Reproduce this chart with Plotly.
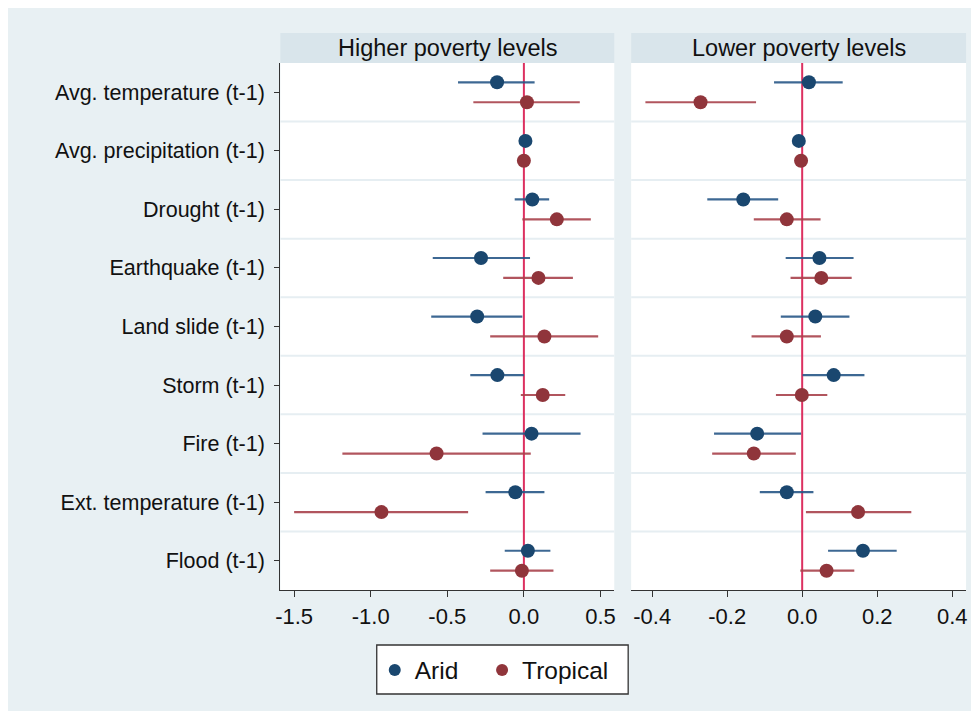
import plotly.graph_objects as go

# The page body keeps an 8px margin, so the figure is sized to fit the window.
OFF = 8
W, H = 979 - OFF, 711 - OFF

categories = ["Avg. temperature (t-1)", "Avg. precipitation (t-1)", "Drought (t-1)",
              "Earthquake (t-1)", "Land slide (t-1)", "Storm (t-1)", "Fire (t-1)",
              "Ext. temperature (t-1)", "Flood (t-1)"]
panel_titles = ["Higher poverty levels", "Lower poverty levels"]
series_names = ["Arid", "Tropical"]

# Higher poverty levels
high_arid_est = [-0.175, 0.010, 0.055, -0.280, -0.305, -0.173, 0.050, -0.056, 0.026]
high_arid_lo = [-0.430, 0.004, -0.060, -0.595, -0.605, -0.350, -0.270, -0.250, -0.125]
high_arid_hi = [0.070, 0.016, 0.165, 0.040, -0.010, 0.000, 0.370, 0.134, 0.173]
high_trop_est = [0.020, 0.000, 0.215, 0.095, 0.134, 0.123, -0.570, -0.930, -0.013]
high_trop_lo = [-0.330, -0.006, -0.010, -0.135, -0.220, -0.020, -1.185, -1.500, -0.220]
high_trop_hi = [0.365, 0.006, 0.437, 0.320, 0.485, 0.270, 0.045, -0.364, 0.193]

# Lower poverty levels
low_arid_est = [0.018, -0.009, -0.157, 0.046, 0.035, 0.084, -0.120, -0.041, 0.162]
low_arid_lo = [-0.075, -0.012, -0.253, -0.044, -0.057, 0.001, -0.235, -0.113, 0.069]
low_arid_hi = [0.108, -0.006, -0.064, 0.137, 0.126, 0.166, -0.003, 0.030, 0.252]
low_trop_est = [-0.271, -0.003, -0.041, 0.051, -0.041, -0.001, -0.129, 0.149, 0.065]
low_trop_lo = [-0.418, -0.006, -0.129, -0.031, -0.135, -0.070, -0.240, 0.010, -0.005]
low_trop_hi = [-0.123, 0.000, 0.049, 0.132, 0.050, 0.067, -0.017, 0.291, 0.139]

left_ticks = [-1.5, -1.0, -0.5, 0.0, 0.5]
left_ticktext = ["-1.5", "-1.0", "-0.5", "0.0", "0.5"]
right_ticks = [-0.4, -0.2, 0.0, 0.2, 0.4]
right_ticktext = ["-0.4", "-0.2", "0.0", "0.2", "0.4"]

ARID = "#1a476f"
TROP = "#90353b"
ARID_CI = "rgba(40,88,135,0.9)"
TROP_CI = "rgba(168,66,76,0.9)"
BG = "#e8f0f3"
STRIP = "#d9e5eb"
FONT = "Liberation Sans, Arial, sans-serif"

pos = list(range(1, len(categories) + 1))
off = 0.17

fig = go.Figure()

panels = [
    ("x", "y", high_arid_est, high_arid_lo, high_arid_hi, high_trop_est, high_trop_lo, high_trop_hi),
    ("x2", "y2", low_arid_est, low_arid_lo, low_arid_hi, low_trop_est, low_trop_lo, low_trop_hi),
]
for pi, (xa, ya, ae, al, ah, te, tl, th) in enumerate(panels):
    for name, est, lo, hi, col, cicol, sgn, lg in [
        (series_names[0], ae, al, ah, ARID, ARID_CI, -1, "legend"),
        (series_names[1], te, tl, th, TROP, TROP_CI, 1, "legend2"),
    ]:
        fig.add_trace(go.Scatter(
            x=est, y=[p + sgn * off for p in pos], xaxis=xa, yaxis=ya,
            mode="markers", name=name, showlegend=(pi == 0), legend=lg,
            marker=dict(color=col, size=14),
            error_x=dict(type="data", symmetric=False,
                         array=[h - e for h, e in zip(hi, est)],
                         arrayminus=[e - l for e, l in zip(est, lo)],
                         color=cicol, thickness=2.2, width=0),
        ))

# page-pixel -> paper fraction
px = lambda v: (v - OFF) / W
py = lambda v: 1 - (v - OFF) / H

top, bottom = 63, 590
dom_y = [py(bottom), py(top)]
dom_x1 = [px(277), px(613)]
dom_x2 = [px(630), px(967)]

axcol = "#333333"
legend_common = dict(orientation="h", xanchor="left", yanchor="middle", y=py(670),
                     bgcolor="rgba(0,0,0,0)", borderwidth=0,
                     font=dict(size=24.5, color="#111111", family=FONT), itemsizing="constant")
fig.update_layout(
    width=W, height=H,
    margin=dict(l=0, r=0, t=0, b=0),
    paper_bgcolor=BG, plot_bgcolor="white",
    font=dict(family=FONT, color="#111111"),
    xaxis=dict(domain=dom_x1, range=[-1.59, 0.59], tickvals=left_ticks, ticktext=left_ticktext,
               anchor="y", showline=True, linecolor=axcol, linewidth=1.3, ticks="outside",
               ticklen=6, tickwidth=1.3, tickcolor=axcol, showgrid=False, zeroline=False,
               tickfont=dict(size=22, color="#111111", family=FONT)),
    xaxis2=dict(domain=dom_x2, range=[-0.456, 0.437], tickvals=right_ticks, ticktext=right_ticktext,
                anchor="y2", showline=True, linecolor=axcol, linewidth=1.3, ticks="outside",
                ticklen=6, tickwidth=1.3, tickcolor=axcol, showgrid=False, zeroline=False,
                tickfont=dict(size=22, color="#111111", family=FONT)),
    yaxis=dict(domain=dom_y, range=[9.5, 0.5], tickvals=pos, ticktext=categories,
               anchor="x", showline=True, linecolor=axcol, linewidth=1.3, ticks="outside",
               ticklen=5, tickwidth=1.3, tickcolor=axcol, showgrid=False, zeroline=False,
               ticklabelstandoff=5,
               tickfont=dict(size=21.5, color="#111111", family=FONT)),
    yaxis2=dict(domain=dom_y, range=[9.5, 0.5], anchor="x2", showline=False, ticks="",
                showticklabels=False, showgrid=False, zeroline=False),
    legend=dict(x=px(372), **legend_common),
    legend2=dict(x=px(480), **legend_common),
    showlegend=True,
)

shapes = []
# legend frame
shapes.append(dict(type="rect", xref="paper", yref="paper", x0=px(374), x1=px(627),
                   y0=py(694), y1=py(645), fillcolor="white",
                   line=dict(color=axcol, width=1.3), layer="below"))
# strip headers
for dx in (dom_x1, dom_x2):
    shapes.append(dict(type="rect", xref="paper", yref="paper", x0=dx[0], x1=dx[1],
                       y0=py(63), y1=py(33), fillcolor=STRIP, line=dict(width=0), layer="below"))
# separators and zero line
for xa, ya in (("x", "y"), ("x2", "y2")):
    for k in range(1, len(categories)):
        shapes.append(dict(type="line", xref=xa + " domain", yref=ya, x0=0, x1=1,
                           y0=k + 0.5, y1=k + 0.5, line=dict(color="#e6eef2", width=2),
                           layer="below"))
    shapes.append(dict(type="line", xref=xa, yref=ya + " domain", x0=0, x1=0, y0=0, y1=1,
                       line=dict(color="#dc3060", width=2), layer="below"))
fig.update_layout(shapes=shapes)

for dx, t in zip((dom_x1, dom_x2), panel_titles):
    fig.add_annotation(text=t, xref="paper", yref="paper", x=(dx[0] + dx[1]) / 2, y=py(48),
                       showarrow=False, xanchor="center", yanchor="middle",
                       font=dict(size=23.5, color="#111111", family=FONT))

fig.write_html("out.html")
